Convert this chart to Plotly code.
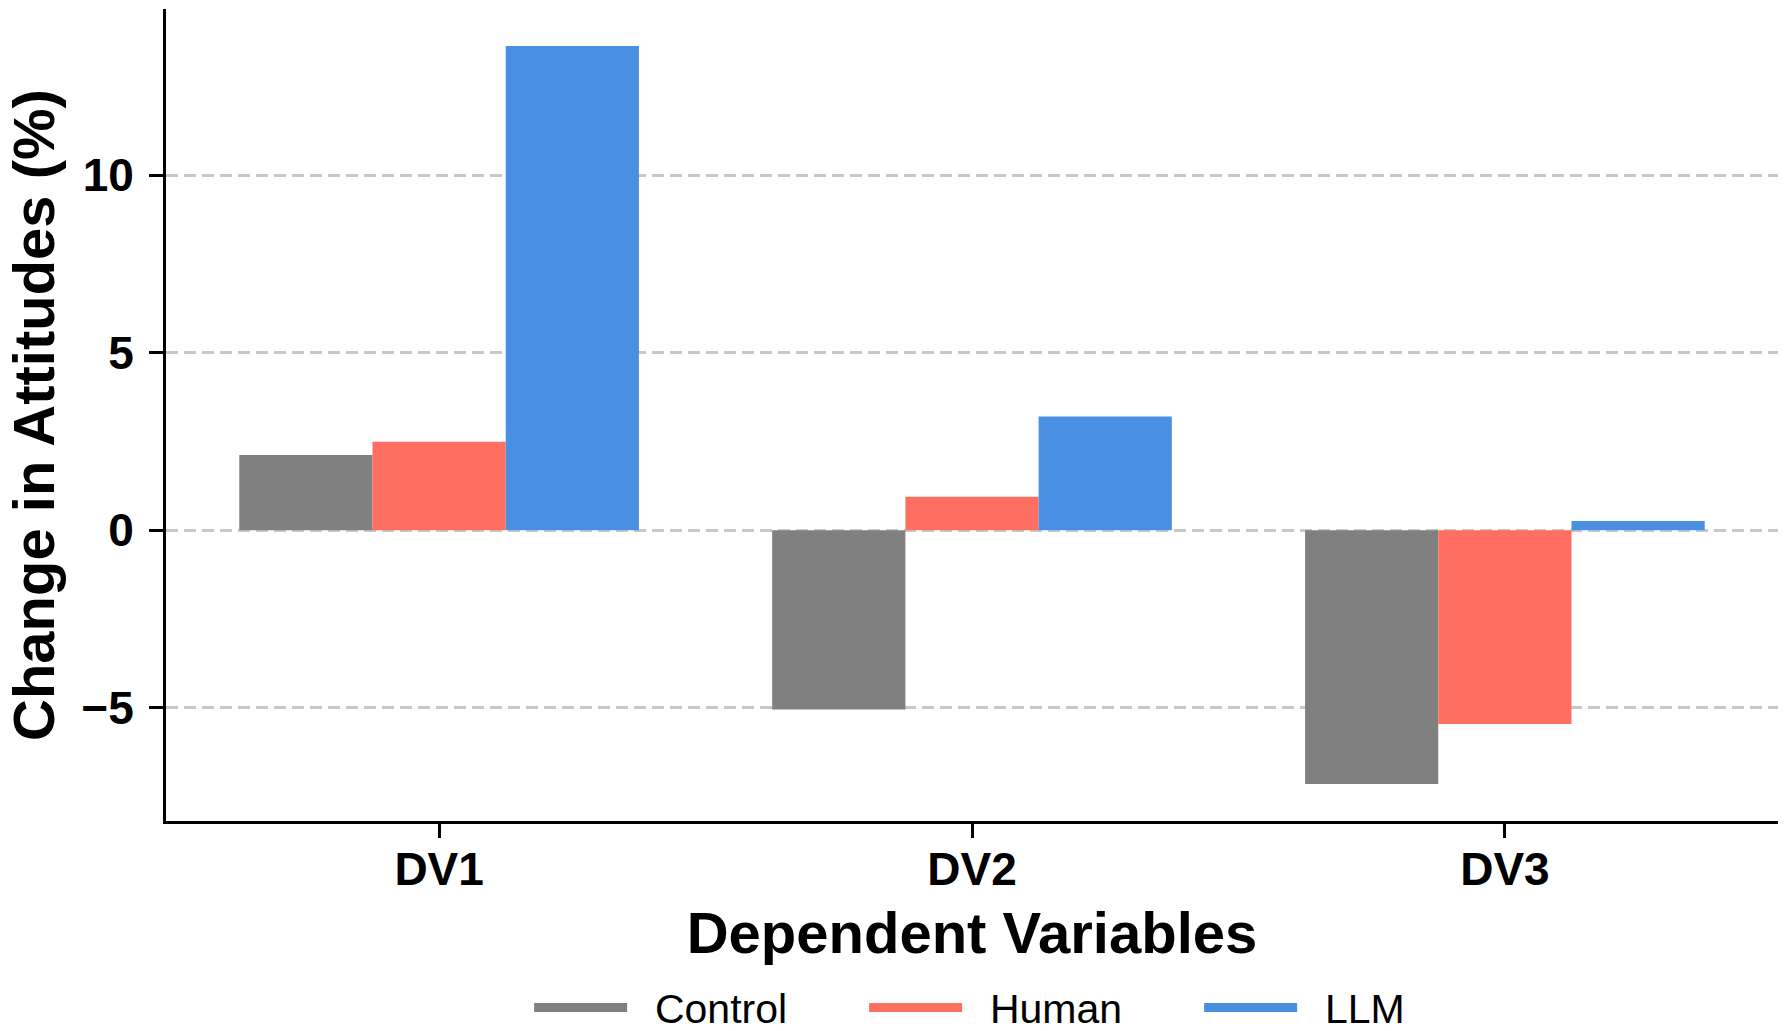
import plotly.graph_objects as go

categories = ["DV1", "DV2", "DV3"]
groups = ["Control", "Human", "LLM"]
control = [2.12, -5.05, -7.15]
human = [2.49, 0.94, -5.46]
llm = [13.64, 3.20, 0.26]
colors = ["#808080", "#FF6F61", "#4A90E2"]
y_ticks = [-5, 0, 5, 10]

FONT = "Liberation Sans, Arial, sans-serif"
NB = "\u00a0\u00a0"

fig = go.Figure()
for name, vals, col in zip(groups, [control, human, llm], colors):
    fig.add_trace(go.Bar(x=categories, y=vals, name=name, marker=dict(color=col, line=dict(width=0)),
                         showlegend=False))
for name, col in zip(groups, colors):
    fig.add_trace(go.Scatter(x=[None], y=[None], mode="lines", name=NB + name,
                             line=dict(color=col, width=9), showlegend=True))

fig.update_layout(
    width=1784, height=1023,
    margin=dict(l=158, r=14, t=1, b=210, autoexpand=False),
    paper_bgcolor="white", plot_bgcolor="white",
    barmode="group", bargap=0.25, bargroupgap=0,
    font=dict(family=FONT, color="black"),
    legend=dict(orientation="h", x=0.537, xanchor="center", y=-0.230, yanchor="middle",
                font=dict(size=41, family=FONT, color="black"),
                itemwidth=93, entrywidth=227, entrywidthmode="pixels",
                bgcolor="rgba(0,0,0,0)", borderwidth=0),
    annotations=[dict(text="<b>Change in Attitudes (%)</b>", xref="paper", yref="paper",
                      x=-0.0825, y=0.5, xanchor="center", yanchor="middle", textangle=-90,
                      showarrow=False, font=dict(size=58, family=FONT, color="black"))],
)
fig.update_xaxes(
    type="category", range=[-0.5125, 2.5125],
    showline=True, linecolor="black", linewidth=3, mirror=False,
    ticks="outside", ticklen=14, tickwidth=3, tickcolor="black",
    tickfont=dict(size=46, family=FONT, color="black", weight="bold"),
    ticklabelstandoff=-8,
    showgrid=False, zeroline=False,
    title=dict(text="<b>Dependent Variables</b>", font=dict(size=58, family=FONT, color="black"), standoff=19),
)
fig.update_yaxes(
    range=[-8.19, 14.68], tickvals=y_ticks,
    showline=True, linecolor="black", linewidth=3, mirror=False,
    ticks="outside", ticklen=14, tickwidth=3, tickcolor="black",
    tickfont=dict(size=46, family=FONT, color="black", weight="bold"),
    ticklabelstandoff=6,
    showgrid=True, gridcolor="#c8c8c8", gridwidth=2.5, griddash="12px,6px",
    zeroline=False,
)

fig.write_html("out.html")
